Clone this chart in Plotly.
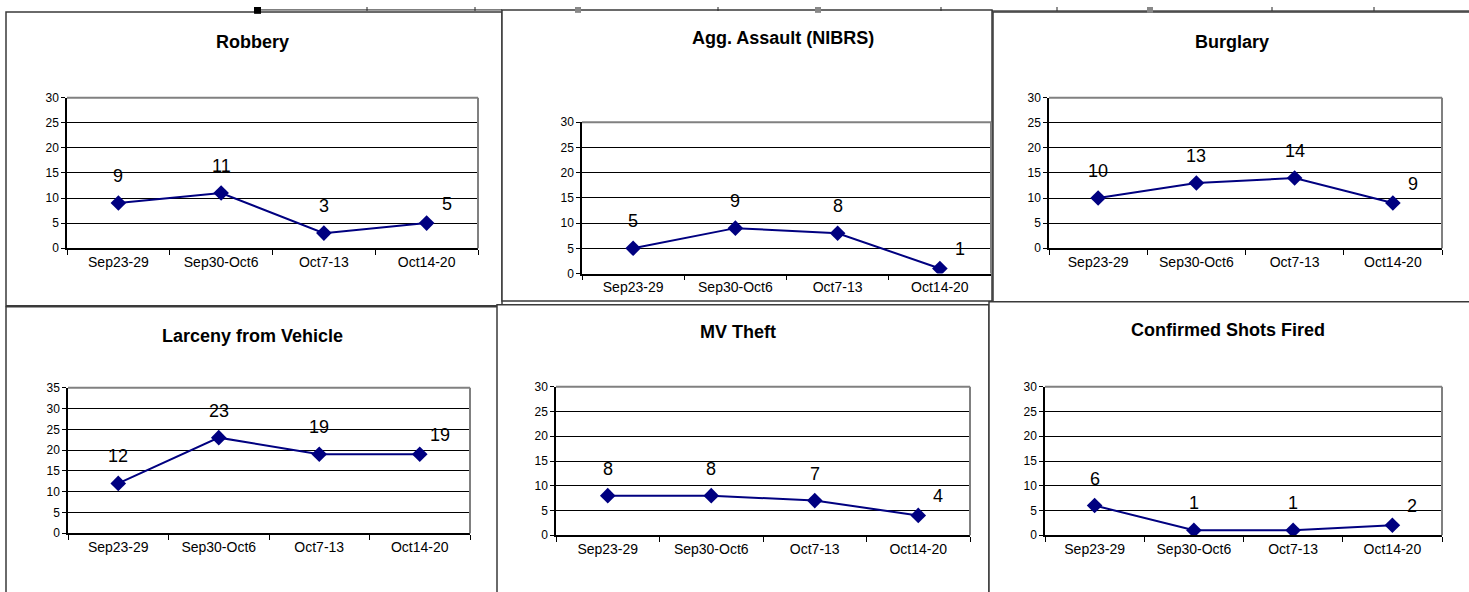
import plotly.graph_objects as go

W, H = 1469, 592

weeks = ["Sep23-29", "Sep30-Oct6", "Oct7-13", "Oct14-20"]

titles = ["Robbery", "Agg. Assault (NIBRS)", "Burglary",
          "Larceny from Vehicle", "MV Theft", "Confirmed Shots Fired"]

robbery = [9, 11, 3, 5]
agg_assault = [5, 9, 8, 1]
burglary = [10, 13, 14, 9]
larceny_vehicle = [12, 23, 19, 19]
mv_theft = [8, 8, 7, 4]
shots_fired = [6, 1, 1, 2]

y_max = [30, 30, 30, 35, 30, 30]

series = [robbery, agg_assault, burglary, larceny_vehicle, mv_theft, shots_fired]

# ---- layout geometry (pixels) ----
plot_px = [
    (67, 93, 478, 247),
    (582, 118, 991, 273),
    (1049, 93, 1442, 247),
    (68, 390, 470, 539),
    (556, 389, 970, 541),
    (1045, 389, 1442, 541),
]
title_px = [(252, 36), (783, 32), (1232, 36), (252, 337), (738, 333), (1228, 331)]
panel_px = [
    (6, 5, 502, 306),
    (502, 3, 992, 301),
    (993, 5, 1475, 302),
    (6, 307, 498, 600),
    (497, 305, 989, 600),
    (989, 302, 1475, 600),
]

NAVY = "#000080"
FONT = "Liberation Sans, Arial, sans-serif"

fig = go.Figure()
shapes = []
annotations = []

def px_x(x):
    return x / W

def px_y(y):
    return 1 - y / H

# background panels
for (l, t, r, b) in panel_px:
    shapes.append(dict(type="rect", xref="paper", yref="paper",
                       x0=px_x(l), x1=px_x(r), y0=px_y(b), y1=px_y(t),
                       line=dict(color="#3a3a3a", width=1.5),
                       fillcolor="white", layer="below"))

# table fragments at the top edge
shapes.append(dict(type="line", xref="paper", yref="paper",
                   x0=px_x(255), x1=px_x(502), y0=px_y(3), y1=px_y(3),
                   line=dict(color="#222", width=1)))
shapes.append(dict(type="line", xref="paper", yref="paper",
                   x0=px_x(992), x1=px_x(1469), y0=px_y(4), y1=px_y(4),
                   line=dict(color="#222", width=1)))
for vx in [367, 475, 718, 941, 1057, 1272, 1374]:
    shapes.append(dict(type="line", xref="paper", yref="paper",
                       x0=px_x(vx), x1=px_x(vx), y0=px_y(0), y1=px_y(4),
                       line=dict(color="#222", width=1)))
shapes.append(dict(type="rect", xref="paper", yref="paper",
                   x0=px_x(254), x1=px_x(261), y0=px_y(7), y1=px_y(0),
                   line=dict(width=0), fillcolor="black"))
for gx in [578, 818, 1150]:
    shapes.append(dict(type="rect", xref="paper", yref="paper",
                       x0=px_x(gx - 3), x1=px_x(gx + 3), y0=px_y(6), y1=px_y(0),
                       line=dict(width=0), fillcolor="#888"))

label_style = [(0, 27), (0, 27), (0, 27), (20, 19)]

for i, (vals, title, ymax) in enumerate(zip(series, titles, y_max)):
    n = i + 1
    xa = "x" if n == 1 else f"x{n}"
    ya = "y" if n == 1 else f"y{n}"
    l, t, r, b = plot_px[i]
    fig.add_trace(go.Scatter(
        x=weeks, y=vals, xaxis=xa, yaxis=ya, mode="lines+markers",
        line=dict(color=NAVY, width=2),
        marker=dict(symbol="diamond", size=12, color=NAVY),
        showlegend=False, hoverinfo="x+y"))
    xkey = "xaxis" if n == 1 else f"xaxis{n}"
    ykey = "yaxis" if n == 1 else f"yaxis{n}"
    fig.update_layout({
        xkey: dict(domain=[px_x(l), px_x(r)], anchor=ya, type="category",
                   range=[-0.5, 3.5], tickson="boundaries", ticks="outside",
                   ticklen=5, tickcolor="black", showline=True, linecolor="black",
                   linewidth=1.5, showgrid=False, zeroline=False,
                   tickfont=dict(family=FONT, size=14, color="black"),
                   fixedrange=True),
        ykey: dict(domain=[px_y(b), px_y(t)], anchor=xa, range=[0, ymax],
                   dtick=5, tick0=0, ticks="outside", ticklen=4, tickcolor="black",
                   showline=True, linecolor="black", linewidth=1.5,
                   showgrid=True, gridcolor="black", gridwidth=1, zeroline=False,
                   tickfont=dict(family=FONT, size=12, color="black"),
                   fixedrange=True),
    })
    # gray frame on top and right of the plot area
    shapes.append(dict(type="line", xref=f"{xa} domain", yref=f"{ya} domain",
                       x0=0, x1=1, y0=1, y1=1, line=dict(color="#808080", width=2),
                       layer="above"))
    shapes.append(dict(type="line", xref=f"{xa} domain", yref=f"{ya} domain",
                       x0=1, x1=1, y0=0, y1=1, line=dict(color="#808080", width=2),
                       layer="above"))
    # title
    tx, ty = title_px[i]
    annotations.append(dict(xref="paper", yref="paper", x=px_x(tx), y=px_y(ty),
                            text=f"<b>{title}</b>", showarrow=False,
                            xanchor="center", yanchor="middle",
                            font=dict(family=FONT, size=18, color="black")))
    # data labels
    for j, (wk, v) in enumerate(zip(weeks, vals)):
        dx, dy = label_style[j]
        annotations.append(dict(xref=xa, yref=ya, x=wk, y=v, text=str(v),
                                showarrow=False, xanchor="center", yanchor="middle",
                                xshift=dx, yshift=dy,
                                font=dict(family=FONT, size=18, color="black")))

fig.update_layout(width=W, height=H, margin=dict(l=0, r=0, t=0, b=0, pad=0),
                  paper_bgcolor="white", plot_bgcolor="white",
                  shapes=shapes, annotations=annotations)

fig.write_html("out.html", config={"displayModeBar": False},
               post_script="var gd=document.getElementById('{plot_id}');"
                           "gd.style.position='fixed';gd.style.top='0px';gd.style.left='0px';"
                           "document.documentElement.style.margin='0';"
                           "document.body.style.margin='0';"
                           "document.documentElement.style.overflow='hidden';"
                           "document.body.style.overflow='hidden';")
